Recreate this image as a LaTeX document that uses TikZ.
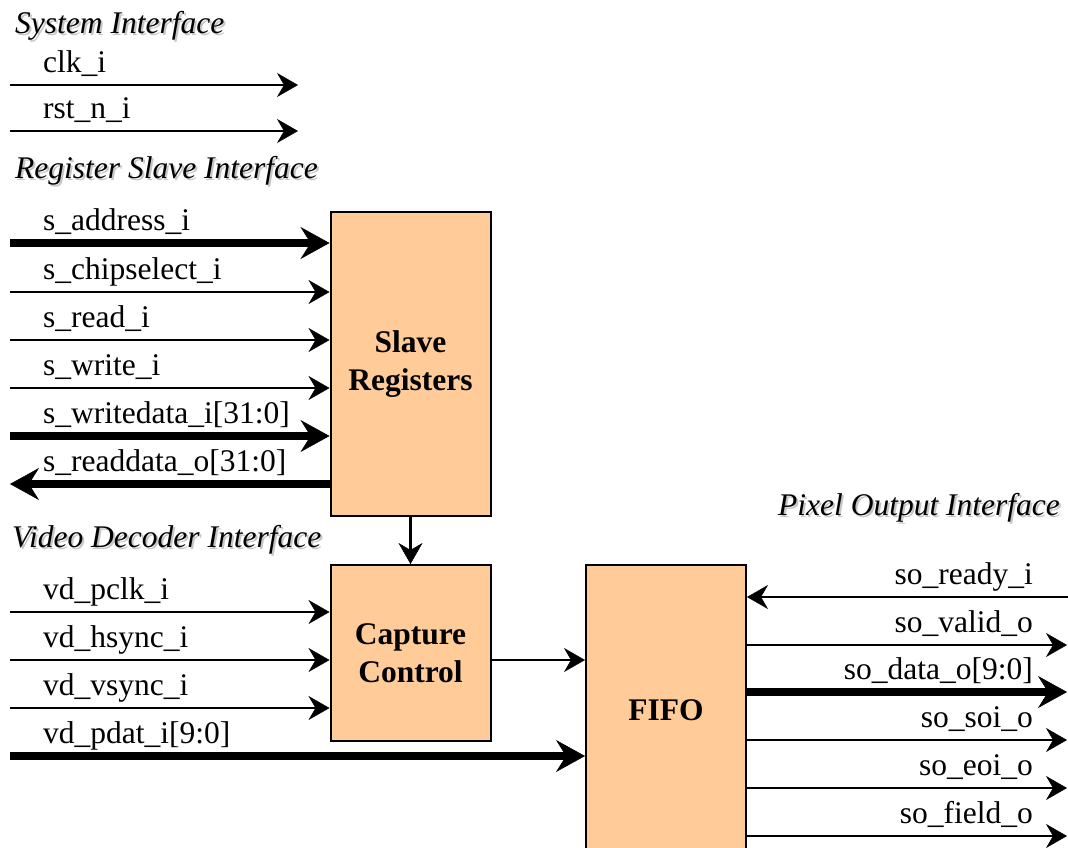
\documentclass[tikz,border=0pt]{standalone}
\usepackage{fontspec}
\setmainfont{Liberation Serif}
\usetikzlibrary{arrows.meta}
\definecolor{blockfill}{RGB}{255,204,153}
\tikzset{
	sigfont/.style={font=\fontsize{31.5pt}{38pt}\selectfont, inner sep=0pt},
	sig/.style={line width=2pt, -{Stealth[length=21pt, width=24pt, inset=7pt, line width=0.5pt]}},
	sigw/.style={sig, line width=2.6pt},
	bus/.style={line width=7.5pt, -{Stealth[length=29pt, width=32pt, inset=10pt, line width=0.5pt]}},
	blk/.style={draw, line width=2pt, fill=blockfill, minimum width=160pt, align=center,
		font=\bfseries\fontsize{31.5pt}{38pt}\selectfont},
	hdg/.style={sigfont, font=\itshape\fontsize{31.5pt}{38pt}\selectfont},
}
\begin{document}
\begin{tikzpicture}[x=1pt, y=-1pt]
					\useasboundingbox (0,0) rectangle (1068,847);

					% The three blocks
						\node [blk, minimum height=304pt] (slv) at (410.5,364) {Slave\\Registers};
						\node [blk, minimum height=176pt] (cap) at (410.5,653) {Capture\\Control};
						\node [blk, minimum height=290pt] (fifo) at (666,710) {FIFO};

					% Interface headings, with their grey shadow
						\foreach \nm/\xx/\yy/\anc/\txt in {
							sys/15/33/{base west}/{System Interface},
							reg/15/178/{base west}/{Register Slave Interface},
							vid/12/547/{base west}/{Video Decoder Interface},
							pix/1060/515/{base east}/{Pixel Output Interface}} {
								\node [hdg, text=gray!45, anchor=\anc] (\nm-sh) at (\xx+2,\yy+2) {\txt};
								\node [hdg, anchor=\anc] (\nm) at (\xx,\yy) {\txt};
								}

					% System interface
						\foreach \nm/\yy/\txt in {
							clk/85/{clk\_i},
							rst/131/{rst\_n\_i}} {
								\coordinate (\nm) at (10,\yy);
								\coordinate (\nm-end) at (298,\yy);
								\node [sigfont, anchor=base west] (\nm-lab) at (43,\yy-13) {\txt};
								\draw [sig] (\nm) -- (\nm-end);
								}

					% Register slave interface
						\foreach \nm/\yy/\txt/\sty in {
							adr/243/{s\_address\_i}/bus,
							cs/292/{s\_chipselect\_i}/sig,
							rd/340/{s\_read\_i}/sig,
							wr/388/{s\_write\_i}/sigw,
							wd/436/{s\_writedata\_i[31:0]}/bus} {
								\coordinate (\nm) at (10,\yy);
								\node [sigfont, anchor=base west] (\nm-lab) at (43,\yy-13) {\txt};
								\draw [\sty] (\nm) -- (\nm -| slv.west);
								}
						\coordinate (rdd) at (10,484);
						\node [sigfont, anchor=base west] (rdd-lab) at (43,471) {s\_readdata\_o[31:0]};
						\draw [bus] (rdd -| slv.west) -- (rdd);

					% Video decoder interface
						\foreach \nm/\yy/\txt in {
							pclk/612/{vd\_pclk\_i},
							hs/660/{vd\_hsync\_i},
							vs/708/{vd\_vsync\_i}} {
								\coordinate (\nm) at (10,\yy);
								\node [sigfont, anchor=base west] (\nm-lab) at (43,\yy-13) {\txt};
								\draw [sigw] (\nm) -- (\nm -| cap.west);
								}
						\coordinate (pdat) at (10,756);
						\node [sigfont, anchor=base west] (pdat-lab) at (43,743) {vd\_pdat\_i[9:0]};
						\draw [bus] (pdat) -- (pdat -| fifo.west);

					% Links between the blocks
						\draw [sigw] (slv.south) -- (cap.north);
						\coordinate (capout) at (491,660);
						\draw [sig] (capout) -- (capout -| fifo.west);

					% Pixel output interface
						\coordinate (rdy) at (1068,597);
						\node [sigfont, anchor=base east] (rdy-lab) at (1033,584) {so\_ready\_i};
						\draw [sigw] (rdy) -- (rdy -| fifo.east);
						\foreach \nm/\yy/\txt/\sty in {
							vld/645/{so\_valid\_o}/sig,
							dat/692/{so\_data\_o[9:0]}/bus,
							soi/740/{so\_soi\_o}/sigw,
							eoi/788/{so\_eoi\_o}/sigw,
							fld/836/{so\_field\_o}/sigw} {
								\coordinate (\nm) at (1067,\yy);
								\node [sigfont, anchor=base east] (\nm-lab) at (1033,\yy-13) {\txt};
								\draw [\sty] (\nm -| fifo.east) -- (\nm);
								}

					\end{tikzpicture}
\end{document}
